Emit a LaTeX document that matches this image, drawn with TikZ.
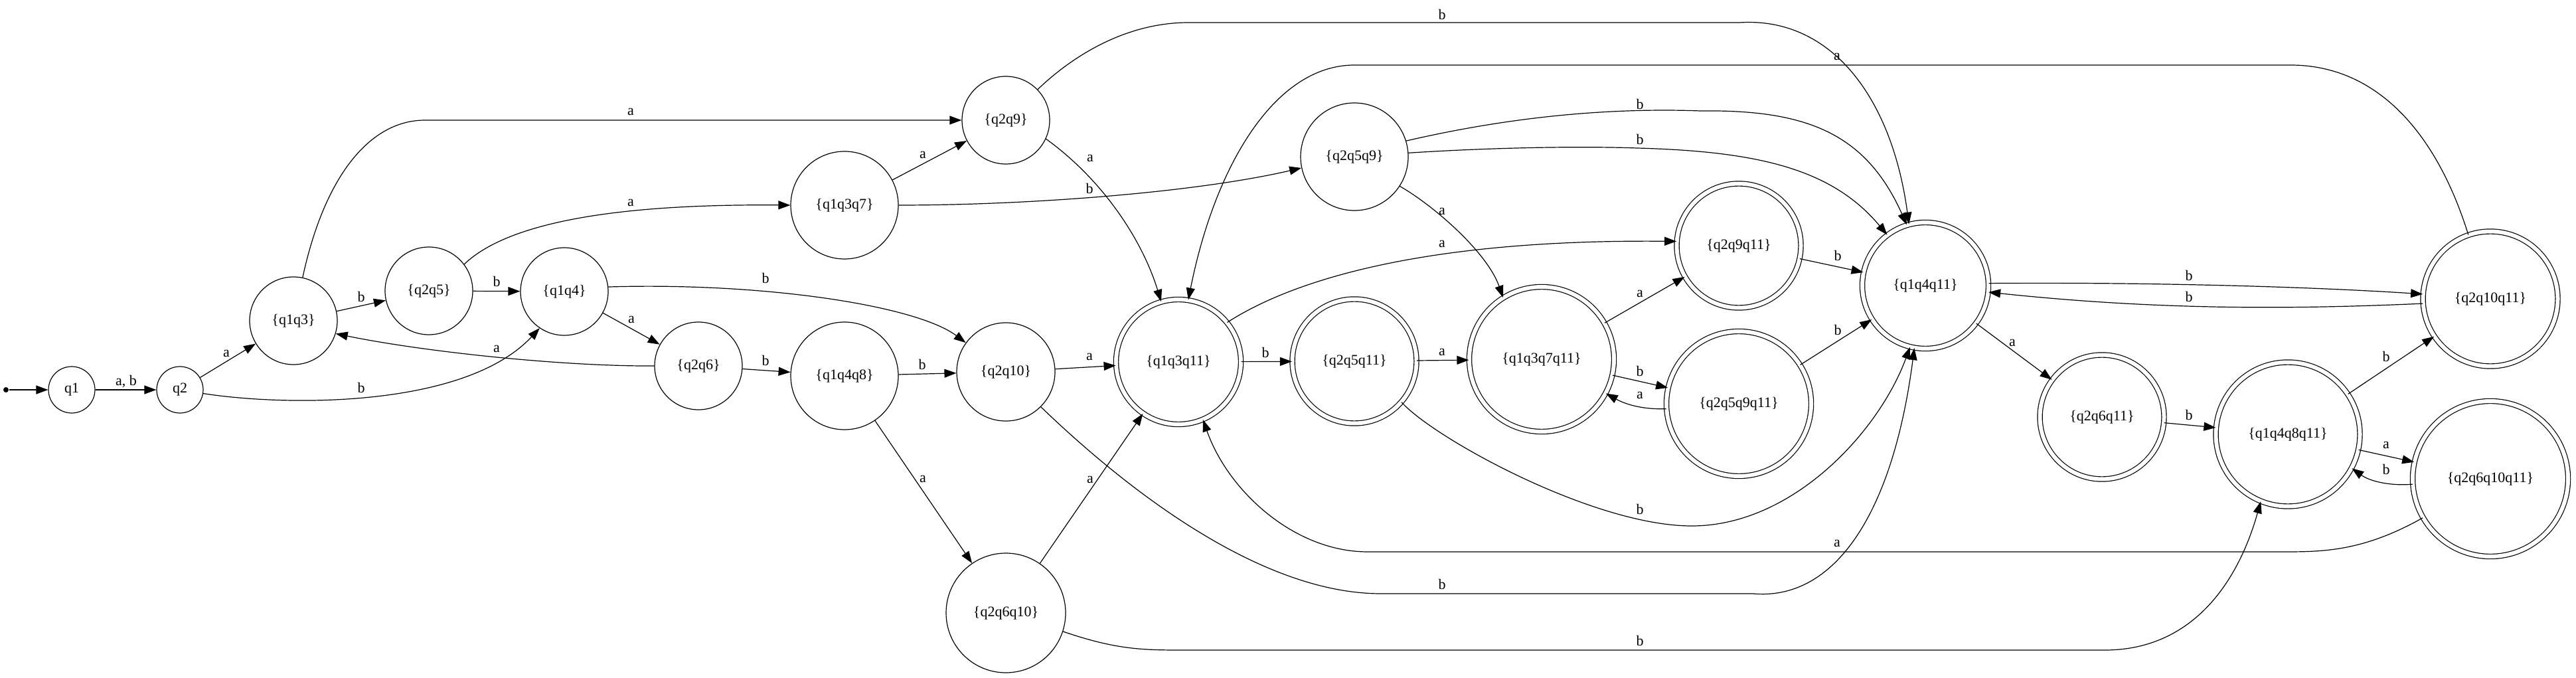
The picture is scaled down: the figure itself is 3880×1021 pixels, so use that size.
\documentclass[tikz,border=0pt]{standalone}
\usepackage{fontspec}
\setmainfont{Liberation Serif}
\usetikzlibrary{arrows.meta}

\begin{document}
\begin{tikzpicture}[x=0.5pt, y=-0.5pt,
    font=\fontsize{11}{13}\selectfont,
    line width=0.6pt,
    >={Triangle[length=9pt,width=6.5pt]},
    estado/.style={circle, draw, inner sep=0pt},
    final/.style={estado, double, double distance=3pt},
    lbl/.style={inner sep=0pt},
    inicio/.style={circle, fill, inner sep=0pt, minimum size=4pt}]

    \useasboundingbox (0,0) rectangle (3880,1021);

    % Estados
    \node[inicio] (ini) at (9,587) {};
    \node[estado, minimum size=35pt] (q1) at (108,587) {q1};
    \node[estado, minimum size=35pt] (q2) at (271,587) {q2};
    \node[estado, minimum size=66pt] (q1q3) at (442,483) {\{q1q3\}};
    \node[estado, minimum size=66pt] (q2q5) at (646,438) {\{q2q5\}};
    \node[estado, minimum size=66pt] (q1q4) at (850,439) {\{q1q4\}};
    \node[estado, minimum size=66pt] (q2q6) at (1052,551) {\{q2q6\}};
    \node[estado, minimum size=81pt] (q1q3q7) at (1272,309) {\{q1q3q7\}};
    \node[estado, minimum size=81pt] (q1q4q8) at (1272,566) {\{q1q4q8\}};
    \node[estado, minimum size=66pt] (q2q9) at (1515,181) {\{q2q9\}};
    \node[estado, minimum size=74pt] (q2q10) at (1515,560) {\{q2q10\}};
    \node[estado, minimum size=90pt] (q2q6q10) at (1515,923) {\{q2q6q10\}};
    \node[estado, minimum size=81pt] (q2q5q9) at (2040,236) {\{q2q5q9\}};

    % Estados finales
    \node[final, minimum size=94pt] (q1q3q11) at (1775,545) {\{q1q3q11\}};
    \node[final, minimum size=93.5pt] (q2q5q11) at (2040,544) {\{q2q5q11\}};
    \node[final, minimum size=109pt] (q1q3q7q11) at (2322,541) {\{q1q3q7q11\}};
    \node[final, minimum size=93.5pt] (q2q9q11) at (2619,370) {\{q2q9q11\}};
    \node[final, minimum size=109pt] (q2q5q9q11) at (2619,608) {\{q2q5q9q11\}};
    \node[final, minimum size=95pt] (q1q4q11) at (2900,430) {\{q1q4q11\}};
    \node[final, minimum size=93.5pt] (q2q6q11) at (3166,628) {\{q2q6q11\}};
    \node[final, minimum size=108.5pt] (q1q4q8q11) at (3446,654) {\{q1q4q8q11\}};
    \node[final, minimum size=101.5pt] (q2q10q11) at (3751,450) {\{q2q10q11\}};
    \node[final, minimum size=117pt] (q2q6q10q11) at (3751,721) {\{q2q6q10q11\}};

    % Transiciones
    \draw[->] (ini) -- (q1);
    \draw[->] (q1) -- (q2) node[lbl, at={(190,575)}] {a, b};
    \draw[->] (q2) -- (q1q3) node[lbl, at={(341,532)}] {a};
    \draw[->] (q2.-9) .. controls (430,612) and (700,615) .. (q1q4.-124) node[lbl, at={(544,584)}] {b};
    \draw[->] (q1q3) -- (q2q5) node[lbl, at={(544,447)}] {b};
    \draw[->] (q1q3.78) .. controls (490,260) and (560,181) .. (640,181) -- (q2q9) node[lbl, at={(950,168)}] {a};
    \draw[->] (q2q5.37) .. controls (770,330) and (950,307) .. (q1q3q7.west) node[lbl, at={(950,305)}] {a};
    \draw[->] (q2q5) -- (q1q4) node[lbl, at={(748,424)}] {b};
    \draw[->] (q1q4) -- (q2q6) node[lbl, at={(951,481)}] {a};
    \draw[->] (q2q6.180) .. controls (850,552) and (640,530) .. (q1q3.-17) node[lbl, at={(748,525)}] {a};
    \draw[->] (q1q4.6) .. controls (1150,425) and (1380,460) .. (q2q10.144) node[lbl, at={(1153,419)}] {b};
    \draw[->] (q2q6) -- (q1q4q8) node[lbl, at={(1153,543)}] {b};
    \draw[->] (q1q4q8) -- (q2q10) node[lbl, at={(1389,549)}] {b};
    \draw[->] (q2q10) -- (q1q3q11) node[lbl, at={(1641,537)}] {a};
    \draw[->] (q1q3q7) -- (q2q9) node[lbl, at={(1390,233)}] {a};
    \draw[->] (q1q4q8) -- (q2q6q10) node[lbl, at={(1390,721)}] {a};
    \draw[->] (q2q6q10) -- (q1q3q11) node[lbl, at={(1642,722)}] {a};
    \draw[->] (q1q3q7.0) .. controls (1550,309) and (1800,290) .. (q2q5q9.192) node[lbl, at={(1641,284)}] {b};
    \draw[->] (q2q9.-25) .. controls (1660,270) and (1720,360) .. (q1q3q11.106) node[lbl, at={(1642,238)}] {a};
    \draw[->] (q2q9.44) .. controls (1620,80) and (1700,34) .. (1790,34) -- (2620,34)
        .. controls (2760,25) and (2850,150) .. (q1q4q11.105) node[lbl, at={(2172,22)}] {b};
    \draw[->] (q2q10q11.109) .. controls (3670,200) and (3580,98) .. (3450,98) -- (2040,98)
        .. controls (1920,98) and (1830,250) .. (q1q3q11.81) node[lbl, at={(2767,85)}] {a};
    \draw[->] (q1q3q11) -- (q2q5q11) node[lbl, at={(1906,531)}] {b};
    \draw[->] (q1q3q11.39) .. controls (1950,420) and (2150,360) .. (q2q9q11.176) node[lbl, at={(2172,367)}] {a};
    \draw[->] (q2q5q11) -- (q1q3q7q11) node[lbl, at={(2172,530)}] {a};
    \draw[->] (q2q5q11.-41) .. controls (2160,660) and (2400,792) .. (2548,792)
        .. controls (2700,792) and (2830,650) .. (q1q4q11.-104) node[lbl, at={(2470,767)}] {b};
    \draw[->] (q2q5q9.17) .. controls (2300,170) and (2450,163) .. (2561,167)
        .. controls (2720,165) and (2810,200) .. (q1q4q11.107) node[lbl, at={(2470,157)}] {b};
    \draw[->] (q2q5q9.4) .. controls (2250,222) and (2380,220) .. (2466,223)
        .. controls (2650,228) and (2760,255) .. (q1q4q11.127) node[lbl, at={(2470,210)}] {b};
    \draw[->] (q2q5q9.-33) .. controls (2160,310) and (2240,380) .. (q1q3q7q11.122) node[lbl, at={(2172,318)}] {a};
    \draw[->] (q1q3q7q11) -- (q2q9q11) node[lbl, at={(2470,442)}] {a};
    \draw[->] (q1q3q7q11) -- (q2q5q9q11) node[lbl, at={(2470,559)}] {b};
    \draw[->] (q2q5q9q11.184) .. controls (2470,617) and (2445,607) .. (q1q3q7q11.-28) node[lbl, at={(2470,595)}] {a};
    \draw[->] (q2q9q11) -- (q1q4q11) node[lbl, at={(2768,385)}] {b};
    \draw[->] (q2q5q9q11) -- (q1q4q11) node[lbl, at={(2768,497)}] {b};
    \draw[->] (q2q10.-45) .. controls (1700,740) and (1900,894) .. (2080,894) -- (2640,894)
        .. controls (2760,905) and (2850,780) .. (q1q4q11.-100) node[lbl, at={(2172,880)}] {b};
    \draw[->] (q2q6q10.-18) .. controls (1680,978) and (1720,979) .. (1780,979) -- (3170,979)
        .. controls (3300,979) and (3370,880) .. (q1q4q8q11.-112) node[lbl, at={(2470,965)}] {b};
    \draw[->] (q2q6q10q11.210) .. controls (3560,830) and (3500,831) .. (3440,831) -- (2060,831)
        .. controls (1950,831) and (1850,740) .. (q1q3q11.-67) node[lbl, at={(2767,818)}] {a};
    \draw[->] (q1q4q11.2) .. controls (3200,425) and (3450,430) .. (q2q10q11.176) node[lbl, at={(3297,415)}] {b};
    \draw[->] (q2q10q11.184) .. controls (3450,466) and (3250,467) .. (q1q4q11.-6) node[lbl, at={(3297,447)}] {b};
    \draw[->] (q1q4q11) -- (q2q6q11) node[lbl, at={(3031,516)}] {a};
    \draw[->] (q2q6q11) -- (q1q4q8q11) node[lbl, at={(3297,625)}] {b};
    \draw[->] (q1q4q8q11) -- (q2q10q11) node[lbl, at={(3594,537)}] {b};
    \draw[->] (q1q4q8q11) -- (q2q6q10q11) node[lbl, at={(3594,670)}] {a};
    \draw[->] (q2q6q10q11.184) .. controls (3600,732) and (3570,725) .. (q1q4q8q11.-28) node[lbl, at={(3594,707)}] {b};
\end{tikzpicture}
\end{document}
